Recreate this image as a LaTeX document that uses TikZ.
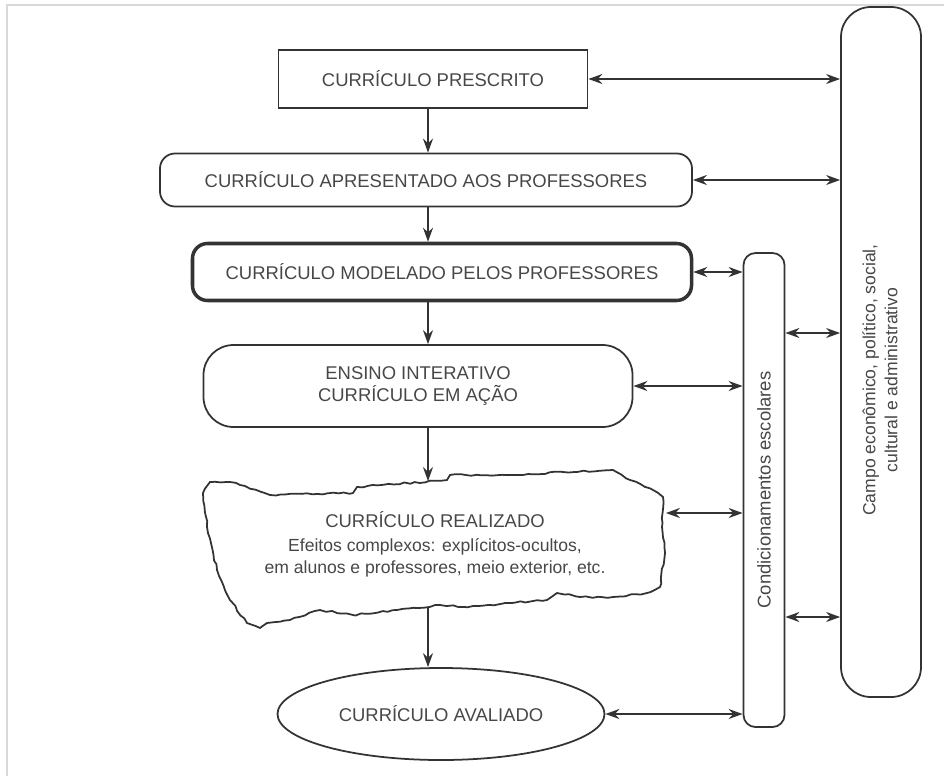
\documentclass[tikz,border=0pt]{standalone}
\usepackage{fontspec}
\setmainfont{Liberation Sans}
\usetikzlibrary{positioning}
\usetikzlibrary{arrows.meta}
\usetikzlibrary{shapes.geometric}
\usetikzlibrary{decorations.pathmorphing}
\definecolor{traco}{HTML}{333333}
\definecolor{texto}{HTML}{474747}

\begin{document}
\begin{tikzpicture}[x=0.2mm,y=-0.2mm,
    caixa/.style={draw=traco,line width=1pt,text=texto,font=\fontsize{10.5}{12.5}\selectfont,align=center,inner sep=0pt},
    seta/.style={draw=traco,line width=1pt,-{Stealth[length=2.8mm,width=2mm]}},
    setadupla/.style={draw=traco,line width=1pt,{Stealth[length=2.8mm,width=2mm]}-{Stealth[length=2.8mm,width=2mm]}}]
    \useasboundingbox (0,0) rectangle (944,776);
    \draw[gray!30,line width=0.6pt] (7,776) -- (7,5) -- (944,5);

    \node[caixa,rectangle,minimum width=6.18cm,minimum height=1.16cm] (prescrito) at (433,79) {CURRÍCULO PRESCRITO};
    \node[caixa,rounded corners=3mm,minimum width=10.64cm,minimum height=1.06cm] (apresentado) at (426,180) {CURRÍCULO APRESENTADO AOS PROFESSORES};
    \node[caixa,rounded corners=3mm,line width=2pt,minimum width=9.98cm,minimum height=1.14cm] (modelado) at (442,272) {CURRÍCULO MODELADO PELOS PROFESSORES};
    \node[caixa,rounded corners=6mm,minimum width=8.58cm,minimum height=1.64cm] (ensino) at (418,386) {ENSINO INTERATIVO\\CURRÍCULO EM AÇÃO};
    \node[caixa,draw=none,minimum width=9.2cm,minimum height=2.48cm] (realizado) at (435,544) {CURRÍCULO REALIZADO\\[1pt]{\fontsize{10}{12.5}\selectfont Efeitos complexos: explícitos-ocultos,}\\{\fontsize{10}{12.5}\selectfont em alunos e professores, meio exterior, etc.}};
    \node[caixa,ellipse,minimum width=6.54cm,minimum height=1.84cm] (avaliado) at (441,714) {CURRÍCULO AVALIADO};
    \node[caixa,rounded corners=2.4mm,rotate=90,minimum width=9.48cm,minimum height=0.82cm] (condic) at (764,490) {Condicionamentos escolares};
    \node[caixa,rounded corners=6mm,rotate=90,minimum width=13.8cm,minimum height=1.6cm] (campo) at (881,352) {};
    \node[caixa,draw=none,rotate=90,font=\fontsize{10}{12.5}\selectfont] (campotexto) at (880,380) {Campo econômico, político, social,\\cultural e administrativo};

    % contorno rasgado do curriculo realizado
    \pgfmathsetseed{7}
    \draw[traco,line width=1pt,decorate,decoration={random steps,segment length=3pt,amplitude=0.5pt}]
        (210,482) -- (230,482) -- (240,485) -- (270,495) -- (353,493) -- (357,487) -- (447,480) -- (450,475)
        -- (513,475) -- (563,472) -- (613,470) -- (630,480) -- (653,490) -- (663,497) -- (662,527) -- (665,553)
        -- (660,587) -- (647,593) -- (613,597) -- (580,597) -- (557,593) -- (547,600) -- (463,607) -- (440,605)
        -- (353,615) -- (320,610) -- (290,620) -- (267,623) -- (260,628) -- (247,623) -- (230,600) -- (217,570)
        -- (207,527) -- (203,493) -- cycle;

    \coordinate (eixo) at (428,0);
    \coordinate (linhaR) at (0,513);
    \coordinate (linhaA) at (0,333);
    \coordinate (linhaB) at (0,617);

    \draw[seta] (eixo |- prescrito.south) -- (eixo |- apresentado.north);
    \draw[seta] (eixo |- apresentado.south) -- (eixo |- modelado.north);
    \draw[seta] (eixo |- modelado.south) -- (eixo |- ensino.north);
    \draw[seta] (eixo |- ensino.south) -- (eixo |- realizado.north);
    \draw[seta] (eixo |- realizado.south) -- (eixo |- avaliado.north);

    \draw[setadupla] (prescrito.east) -- (prescrito.east -| campo.north);
    \draw[setadupla] (apresentado.east) -- (apresentado.east -| campo.north);
    \draw[setadupla] (modelado.east) -- (modelado.east -| condic.north);
    \draw[setadupla] (ensino.east) -- (ensino.east -| condic.north);
    \draw[setadupla] (realizado.east |- linhaR) -- (condic.north |- linhaR);
    \draw[setadupla] (avaliado.east) -- (avaliado.east -| condic.north);
    \draw[setadupla] (condic.south |- linhaA) -- (campo.north |- linhaA);
    \draw[setadupla] (condic.south |- linhaB) -- (campo.north |- linhaB);
\end{tikzpicture}
\end{document}
